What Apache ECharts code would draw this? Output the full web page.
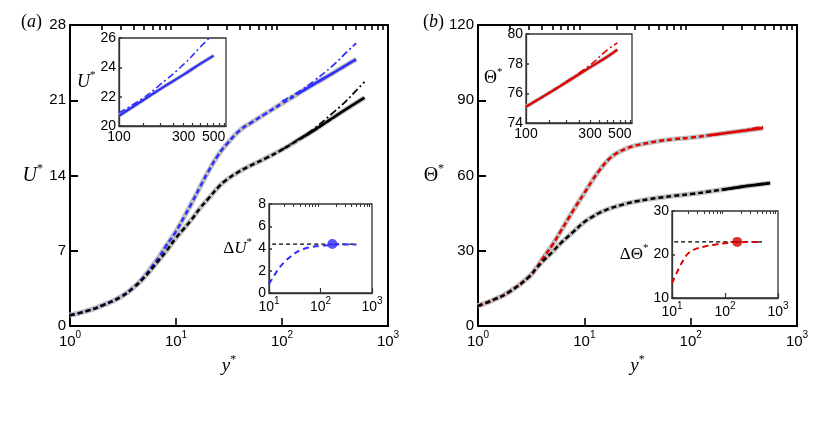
<!DOCTYPE html>
<html><head><meta charset="utf-8">
<script src="https://cdn.jsdelivr.net/npm/echarts@6/dist/echarts.min.js"></script>
<style>html,body{margin:0;padding:0;background:#fff}#c{width:830px;height:433px}</style>
</head><body><div id="c"></div>
<script>
// ---------------- data ----------------
// Panel (a): mean velocity U* vs y*
const yA = [1, 1.5, 2, 3, 4, 5, 6, 7, 8, 10, 12, 14, 17, 20, 25, 30, 40, 50, 70, 100, 150, 200, 300, 400, 500, 600];
const uBlack = [1.0, 1.45, 1.9, 2.7, 3.6, 4.5, 5.4, 6.2, 6.9, 8.2, 9.1, 9.9, 11.0, 11.8, 12.9, 13.6, 14.4, 14.9, 15.6, 16.4, 17.45, 18.2, 19.35, 20.15, 20.75, 21.25];
const yBlue = [1, 1.5, 2, 3, 4, 5, 6, 7, 8, 10, 12, 14, 17, 20, 25, 30, 40, 50, 70, 100, 150, 200, 300, 400, 500];
const uBlue = [1.0, 1.45, 1.9, 2.7, 3.6, 4.6, 5.6, 6.5, 7.4, 8.8, 10.2, 11.4, 13.0, 14.3, 15.9, 16.9, 18.2, 18.85, 19.75, 20.7, 21.75, 22.5, 23.5, 24.25, 24.8];
const yTailBlack = [100, 150, 200, 300, 400, 500, 600];
const uBlackDashDot = [16.4, 17.5, 18.35, 19.8, 20.9, 21.9, 22.7];
const yTailBlue = [100, 150, 200, 300, 400, 500];
const uBlueDashDot = [20.9, 21.9, 22.8, 24.2, 25.4, 26.3];
// inset: velocity shift
const yDU = [10, 12, 15, 20, 25, 30, 40, 50, 70, 100, 150, 200, 300, 500];
const dU = [0.8, 1.4, 2.1, 2.8, 3.2, 3.5, 3.85, 4.0, 4.15, 4.25, 4.3, 4.35, 4.35, 4.35];
const yDURef = [11.5, 470];
const dURef = [4.4, 4.4];
const dUPoint = [[170, 4.4]];

// Panel (b): mean temperature Theta* vs y*
const yB = [1, 1.5, 2, 3, 3.5, 4, 5, 6, 7, 8, 10, 12, 14, 17, 20, 25, 30, 40, 50, 70, 100, 150, 200, 300, 400, 560];
const thBlack = [8.0, 11.0, 13.8, 19.5, 22.8, 25.5, 29.5, 33.0, 35.6, 37.8, 41.5, 43.6, 45.2, 46.7, 47.7, 48.8, 49.6, 50.5, 51.1, 51.9, 52.6, 53.6, 54.4, 55.5, 56.2, 57.0];
const yRed = [1, 1.5, 2, 3, 3.5, 4, 5, 6, 7, 8, 10, 12, 14, 17, 20, 25, 30, 40, 50, 70, 100, 150, 200, 300, 400, 480];
const thRed = [8.0, 11.0, 13.8, 19.5, 22.8, 26.5, 32.3, 37.8, 42.5, 46.6, 53.0, 58.3, 62.3, 66.5, 68.8, 70.8, 71.9, 73.0, 73.7, 74.5, 75.1, 76.05, 76.75, 77.75, 78.45, 78.95];
const yTailRed = [200, 300, 400, 480];
const thRedDashDot = [76.8, 77.9, 78.9, 79.4];
const yTailBlackB = [300, 400, 560];
const thBlackDashDot = [55.6, 56.4, 57.3];
// inset: temperature shift
const yDT = [10, 12, 14, 17, 20, 25, 30, 40, 60, 100, 170, 300, 500];
const dTh = [13.4, 15.5, 17.2, 19.0, 20.2, 21.0, 21.4, 21.8, 22.2, 22.6, 22.9, 22.9, 22.9];
const yDTRef = [11, 500];
const dThRef = [22.9, 22.9];
const dThPoint = [[170, 22.9]];

// tick labels
const mainDecades = [0, 1, 2, 3];
const insetDecades = [1, 2, 3];
const zoomLabels = [100, 300, 500];
const zoomTicks = [150, 200, 250, 300, 350, 400, 450, 500, 550, 600];

// ---------------- helpers ----------------
const L = Math.log10;
function pts(xs, ys, lo, hi) {
  const r = [];
  for (let i = 0; i < xs.length; i++) if (xs[i] >= lo && xs[i] <= hi) r.push([L(xs[i]), ys[i]]);
  return r;
}
function minor(lo, hi) {
  const v = [];
  for (let d = lo; d < hi; d++) for (let k = 2; k <= 9; k++) v.push(d + L(k));
  return v;
}
const serif = 'Liberation Serif', sans = 'Liberation Sans';
function nameRich(size) {
  return {
    i: {fontFamily: serif, fontStyle: 'italic', fontWeight: 'normal', fontSize: size, color: '#000', lineHeight: size + 6},
    r: {fontFamily: serif, fontWeight: 'normal', fontSize: size, color: '#000', lineHeight: size + 6},
    s: {fontFamily: serif, fontWeight: 'normal', fontSize: Math.round(size * 0.62), color: '#000', verticalAlign: 'top', lineHeight: Math.round(size * 0.62)}
  };
}
function powRich(size) {
  return {
    b: {fontFamily: sans, fontSize: size, color: '#000', lineHeight: size + 8},
    s: {fontFamily: sans, fontSize: Math.round(size * 0.68), color: '#000', verticalAlign: 'top', lineHeight: Math.round(size * 0.68)}
  };
}
const powFmt = v => '{b|10}{s|' + Math.round(v) + '}';

const BLUE = '#2e2eff', RED = '#e00000', GRAY = '#c0c0c0';

const grids = [
  {left: 70, top: 25, width: 318, height: 301, z: 0, border: '#000', bw: 2},
  {left: 119, top: 38, width: 107, height: 88, z: 10, border: '#333', bw: 1.3},
  {left: 269, top: 204, width: 103, height: 89, z: 10, border: '#333', bw: 1.3},
  {left: 478, top: 25, width: 319, height: 301, z: 0, border: '#000', bw: 2},
  {left: 526, top: 34, width: 106, height: 89, z: 10, border: '#333', bw: 1.3},
  {left: 672, top: 211, width: 106, height: 87, z: 10, border: '#333', bw: 1.3}
];

const xAxes = [], yAxes = [];
function addX(gi, cfg) {
  const z = grids[gi].z + 1;
  const lc = grids[gi].border, lw = grids[gi].bw;
  xAxes.push({
    type: 'value', gridIndex: gi, min: cfg.min, max: cfg.max, z: z,
    axisLine: {show: true, onZero: false, lineStyle: {color: lc, width: lw}},
    axisTick: {show: true, inside: true, length: cfg.majorLen, lineStyle: {color: lc, width: cfg.tickW || 1.2}, customValues: cfg.ticks},
    axisLabel: {show: true, customValues: cfg.labels, formatter: cfg.fmt, rich: cfg.rich, margin: cfg.margin,
      fontFamily: sans, fontSize: cfg.fs, color: '#000'},
    splitLine: {show: false},
    name: cfg.name || '', nameLocation: 'middle', nameGap: cfg.nameGap || 0,
    nameTextStyle: {rich: nameRich(19)}
  });
  xAxes.push({
    type: 'value', gridIndex: gi, min: cfg.min, max: cfg.max, z: z,
    axisLine: {show: false, onZero: false},
    axisTick: {show: cfg.minorTicks.length > 0, inside: true, length: cfg.minorLen, lineStyle: {color: lc, width: cfg.tickW || 1}, customValues: cfg.minorTicks.length ? cfg.minorTicks : [cfg.min]},
    axisLabel: {show: false},
    splitLine: {show: false}
  });
}
function addY(gi, cfg) {
  const z = grids[gi].z + 1;
  const lc = grids[gi].border, lw = grids[gi].bw;
  yAxes.push({
    type: 'value', gridIndex: gi, min: cfg.min, max: cfg.max, interval: cfg.interval, z: z,
    axisLine: {show: true, onZero: false, lineStyle: {color: lc, width: lw}},
    axisTick: {show: true, inside: true, length: cfg.tickLen, lineStyle: {color: lc, width: cfg.tickW || 1.5}},
    axisLabel: {fontFamily: sans, fontSize: cfg.fs, color: '#000', margin: cfg.margin},
    splitLine: {show: false},
    name: cfg.name, nameLocation: 'middle', nameRotate: 0, nameGap: cfg.nameGap,
    nameTextStyle: {rich: nameRich(cfg.nameSize)}
  });
}

// panel (a)
addX(0, {min: 0, max: 3, ticks: mainDecades, labels: mainDecades, fmt: powFmt, rich: powRich(15), fs: 15, margin: 4,
  majorLen: 8, minorLen: 5, tickW: 1.6, minorTicks: minor(0, 3), name: '{i|y}{s|*}', nameGap: 16});
addY(0, {min: 0, max: 28, interval: 7, tickLen: 8, tickW: 2, fs: 15, margin: 4, name: '{i|U}{s|*}', nameGap: 27, nameSize: 20});
addX(1, {min: 2, max: 2.79, ticks: zoomTicks.map(L), labels: zoomLabels.map(L), fmt: v => String(Math.round(Math.pow(10, v))),
  rich: {}, fs: 14, margin: 4, majorLen: 3, minorLen: 0, minorTicks: []});
addY(1, {min: 20, max: 26, interval: 2, tickLen: 3, fs: 14, margin: 3, name: '{i|U}{s|*}', nameGap: 20, nameSize: 18});
addX(2, {min: 1, max: 3, ticks: insetDecades, labels: insetDecades, fmt: powFmt, rich: powRich(14), fs: 14, margin: 3,
  majorLen: 5, minorLen: 3, minorTicks: minor(1, 3)});
addY(2, {min: 0, max: 8, interval: 2, tickLen: 3, fs: 14, margin: 3, name: '{r|Δ}{i|U}{s|*}', nameGap: 17, nameSize: 17});
// panel (b)
addX(3, {min: 0, max: 3, ticks: mainDecades, labels: mainDecades, fmt: powFmt, rich: powRich(15), fs: 15, margin: 4,
  majorLen: 8, minorLen: 5, tickW: 1.6, minorTicks: minor(0, 3), name: '{i|y}{s|*}', nameGap: 16});
addY(3, {min: 0, max: 120, interval: 30, tickLen: 8, tickW: 2, fs: 15, margin: 4, name: '{r|Θ}{s|*}', nameGap: 26, nameSize: 20});
addX(4, {min: 2, max: 2.79, ticks: zoomTicks.map(L), labels: zoomLabels.map(L), fmt: v => String(Math.round(Math.pow(10, v))),
  rich: {}, fs: 14, margin: 4, majorLen: 3, minorLen: 0, minorTicks: []});
addY(4, {min: 74, max: 80, interval: 2, tickLen: 3, fs: 14, margin: 3, name: '{r|Θ}{s|*}', nameGap: 17, nameSize: 18});
addX(5, {min: 1, max: 3, ticks: insetDecades, labels: insetDecades, fmt: powFmt, rich: powRich(14), fs: 14, margin: 3,
  majorLen: 5, minorLen: 3, minorTicks: minor(1, 3)});
addY(5, {min: 10, max: 30, interval: 10, tickLen: 3, fs: 14, margin: 3, name: '{r|ΔΘ}{s|*}', nameGap: 22, nameSize: 17});

const series = [];
function line(gi, data, color, width, type, zAdd) {
  series.push({
    type: 'line', xAxisIndex: 2 * gi, yAxisIndex: gi, data: data,
    symbol: 'none', showSymbol: false, smooth: 0.5, clip: true, silent: true,
    z: grids[gi].z + 2 + (zAdd || 0),
    lineStyle: {color: color, width: width, type: type, cap: 'butt', join: 'round'}
  });
}
function dot(gi, data, color, size) {
  series.push({
    type: 'scatter', xAxisIndex: 2 * gi, yAxisIndex: gi, data: data.map(p => [L(p[0]), p[1]]),
    symbol: 'circle', symbolSize: size, itemStyle: {color: color}, silent: true, z: grids[gi].z + 6
  });
}
const DASH = [5, 3], DASHDOT = [7, 3, 2, 3], DASH_IN = [6, 4];

// (a) main
line(0, pts(yA, uBlack, 1, 600), GRAY, 5, 'solid', 0);
line(0, pts(yBlue, uBlue, 1, 500), GRAY, 5, 'solid', 0);
line(0, pts(yBlue, uBlue, 1, 200), BLUE, 2.5, DASH, 1);
line(0, pts(yBlue, uBlue, 150, 500), BLUE, 2.6, 'solid', 1);
line(0, pts(yTailBlue, uBlueDashDot, 100, 500), BLUE, 1.8, DASHDOT, 1);
line(0, pts(yA, uBlack, 1, 300), '#000', 2.5, DASH, 2);
line(0, pts(yA, uBlack, 150, 600), '#000', 2.6, 'solid', 2);
line(0, pts(yTailBlack, uBlackDashDot, 100, 600), '#000', 1.8, DASHDOT, 2);
// (a) inset 1
line(1, pts(yBlue, uBlue, 100, 500), GRAY, 4, 'solid', 0);
line(1, pts(yBlue, uBlue, 100, 500), BLUE, 2.2, 'solid', 1);
line(1, pts(yBlue, uBlue, 100, 200), BLUE, 2.0, DASH, 1);
line(1, pts(yTailBlue, uBlueDashDot, 100, 500), BLUE, 1.6, DASHDOT, 1);
// (a) inset 2
line(2, pts(yDURef, dURef, 1, 1000), '#000', 1.3, [4, 3], 0);
line(2, pts(yDU, dU, 1, 1000), BLUE, 2.0, DASH_IN, 1);
dot(2, dUPoint, BLUE, 10);
// (b) main
line(3, pts(yB, thBlack, 1, 600), GRAY, 5, 'solid', 0);
line(3, pts(yRed, thRed, 1, 500), GRAY, 5, 'solid', 0);
line(3, pts(yRed, thRed, 1, 200), RED, 2.5, DASH, 1);
line(3, pts(yRed, thRed, 150, 500), RED, 2.6, 'solid', 1);
line(3, pts(yTailRed, thRedDashDot, 100, 500), RED, 1.8, DASHDOT, 1);
line(3, pts(yB, thBlack, 1, 300), '#000', 2.5, DASH, 2);
line(3, pts(yB, thBlack, 200, 600), '#000', 2.8, 'solid', 2);
line(3, pts(yTailBlackB, thBlackDashDot, 100, 600), '#000', 1.8, DASHDOT, 2);
// (b) inset 1
line(4, pts(yRed, thRed, 100, 500), GRAY, 4, 'solid', 0);
line(4, pts(yRed, thRed, 100, 500), RED, 2.2, 'solid', 1);
line(4, pts(yRed, thRed, 100, 200), RED, 2.0, DASH, 1);
line(4, pts(yTailRed, thRedDashDot, 100, 500), RED, 1.6, DASHDOT, 1);
// (b) inset 2
line(5, pts(yDTRef, dThRef, 1, 1000), '#000', 1.3, [4, 3], 0);
line(5, pts(yDT, dTh, 1, 1000), RED, 2.0, DASH_IN, 1);
dot(5, dThPoint, '#d00000', 10);

const panelRich = {
  p: {fontFamily: serif, fontWeight: 'normal', fontSize: 18, color: '#000'},
  i: {fontFamily: serif, fontStyle: 'italic', fontWeight: 'normal', fontSize: 18, color: '#000'}
};

const chart = echarts.init(document.getElementById('c'), null, {renderer: 'canvas'});
chart.setOption({
  backgroundColor: '#fff',
  animation: false,
  title: [
    {text: '{p|(}{i|a}{p|)}', left: 16, top: 8, textStyle: {fontWeight: 'normal', rich: panelRich}},
    {text: '{p|(}{i|b}{p|)}', left: 418, top: 8, textStyle: {fontWeight: 'normal', rich: panelRich}}
  ],
  grid: grids.map(g => ({left: g.left, top: g.top, width: g.width, height: g.height, show: true,
    borderColor: g.border, borderWidth: g.bw, backgroundColor: '#fff', z: g.z, outerBoundsMode: 'none', containLabel: false})),
  xAxis: xAxes,
  yAxis: yAxes,
  series: series
});
</script>
</body></html>
